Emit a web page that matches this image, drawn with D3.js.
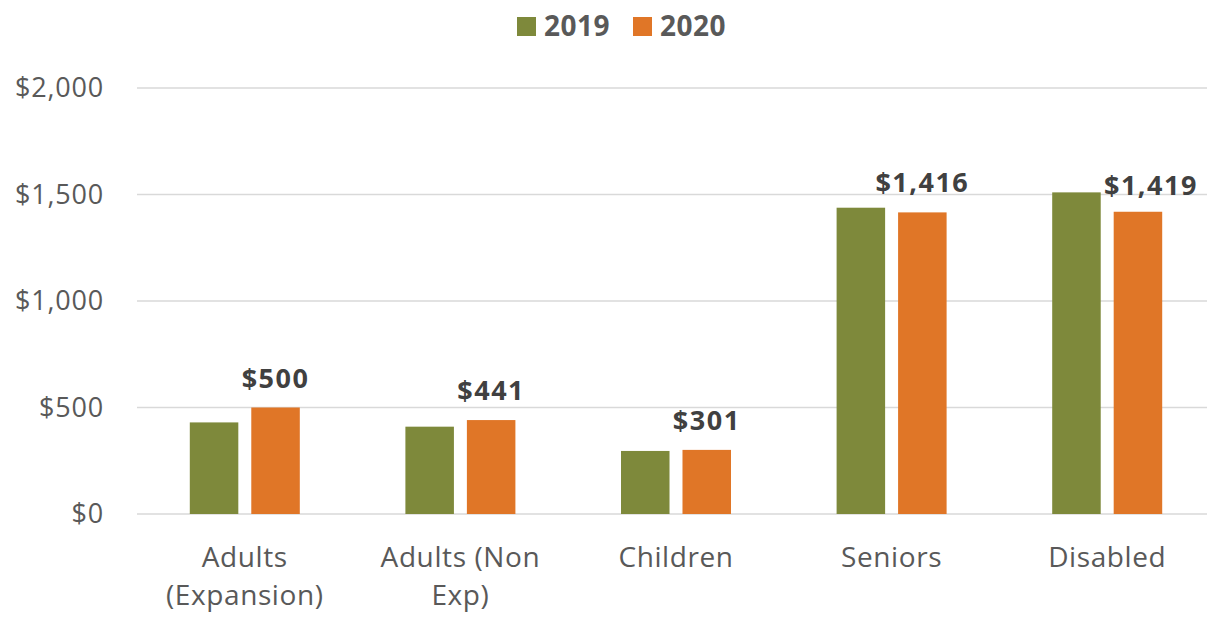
<!DOCTYPE html>
<html>
<head>
<meta charset="utf-8">
<script src="https://cdn.jsdelivr.net/npm/d3@7"></script>
<style>
  html, body { margin: 0; padding: 0; background: #fff; }
  svg { display: block; font-family: "Open Sans", "Noto Sans", sans-serif; }
</style>
</head>
<body>
<svg id="chart" width="1207" height="617"></svg>
<script>
// ---- data ----
const categories = [["Adults", "(Expansion)"], ["Adults (Non", "Exp)"], ["Children"], ["Seniors"], ["Disabled"]];
const seriesNames = ["2019", "2020"];
const values2019 = [430, 410, 296, 1438, 1510];
const values2020 = [500, 441, 301, 1416, 1419];
const yTicks = [0, 500, 1000, 1500, 2000];
const seriesColors = ["#7E893B", "#E07627"];

const svg = d3.select("#chart");
const W = 1207, H = 617;
const plot = { left: 137, right: 1215, top: 88, bottom: 514 };

const catKeys = categories.map(c => c.join(" "));
const x0 = d3.scaleBand().domain(catKeys).range([plot.left, plot.right]).padding(0);
const x1 = d3.scaleBand().domain(seriesNames).range([0, 110]).paddingInner(0.211).paddingOuter(0);
const y = d3.scaleLinear().domain([0, 2000]).range([plot.bottom, plot.top]);

// gridlines
svg.append("g").selectAll("line").data(yTicks).join("line")
  .attr("x1", plot.left).attr("x2", W)
  .attr("y1", d => y(d)).attr("y2", d => y(d))
  .attr("stroke", "#D9D9D9").attr("stroke-width", 1.5);

// y axis labels
const fmt = d => "$" + d3.format(",")(d);
const yAxis = d3.axisLeft(y).tickValues(yTicks).tickFormat(fmt).tickSize(0).tickPadding(0);
const yg = svg.append("g").attr("transform", "translate(104,0)").call(yAxis);
yg.select(".domain").remove();
yg.selectAll("text").attr("font-size", 27).attr("fill", "#595959")
  .attr("letter-spacing", 0.8)
  .attr("font-family", "'Open Sans', sans-serif");

// bars
const data = catKeys.map((c, i) => ({ cat: c, vals: [values2019[i], values2020[i]] }));
const groups = svg.append("g").selectAll("g").data(data).join("g")
  .attr("transform", d => `translate(${x0(d.cat) + x0.bandwidth() / 2 - 55},0)`);
groups.selectAll("rect").data(d => d.vals.map((v, j) => ({ s: seriesNames[j], v, j })))
  .join("rect")
  .attr("x", d => x1(d.s)).attr("width", x1.bandwidth())
  .attr("y", d => y(d.v)).attr("height", d => y(0) - y(d.v))
  .attr("fill", d => seriesColors[d.j]);

// data labels for 2020
const labelNudge = [0, 0, 0, 0, 13];
groups.append("text")
  .attr("x", (d, i) => x1("2020") + x1.bandwidth() / 2 + labelNudge[i])
  .attr("y", (d, i) => y(d.vals[1]) - (i === 4 ? 17 : 20))
  .attr("text-anchor", "middle")
  .attr("font-size", 27).attr("font-weight", 700).attr("fill", "#404040")
  .attr("letter-spacing", 1.5)
  .text(d => fmt(d.vals[1]));

// x axis category labels
const xAxis = d3.axisBottom(x0).tickSize(0).tickFormat("");
const xg = svg.append("g").attr("transform", `translate(0,${plot.bottom})`).call(xAxis);
xg.select(".domain").remove();
categories.forEach((lines, i) => {
  const cx = x0(catKeys[i]) + x0.bandwidth() / 2;
  const t = svg.append("text").attr("text-anchor", "middle")
    .attr("font-size", 28).attr("fill", "#595959").attr("letter-spacing", 0.6);
  lines.forEach((ln, k) => {
    t.append("tspan").attr("x", cx).attr("y", 567 + k * 38).text(ln);
  });
});

// legend
const legend = svg.append("g");
const legendX = [517, 633];
seriesNames.forEach((s, i) => {
  legend.append("rect").attr("x", legendX[i]).attr("y", 17).attr("width", 19).attr("height", 19)
    .attr("fill", seriesColors[i]);
  legend.append("text").attr("x", legendX[i] + 27).attr("y", 36)
    .attr("font-size", 28).attr("font-weight", 700).attr("fill", "#595959")
    .attr("letter-spacing", 0.5).text(s);
});
</script>
</body>
</html>
